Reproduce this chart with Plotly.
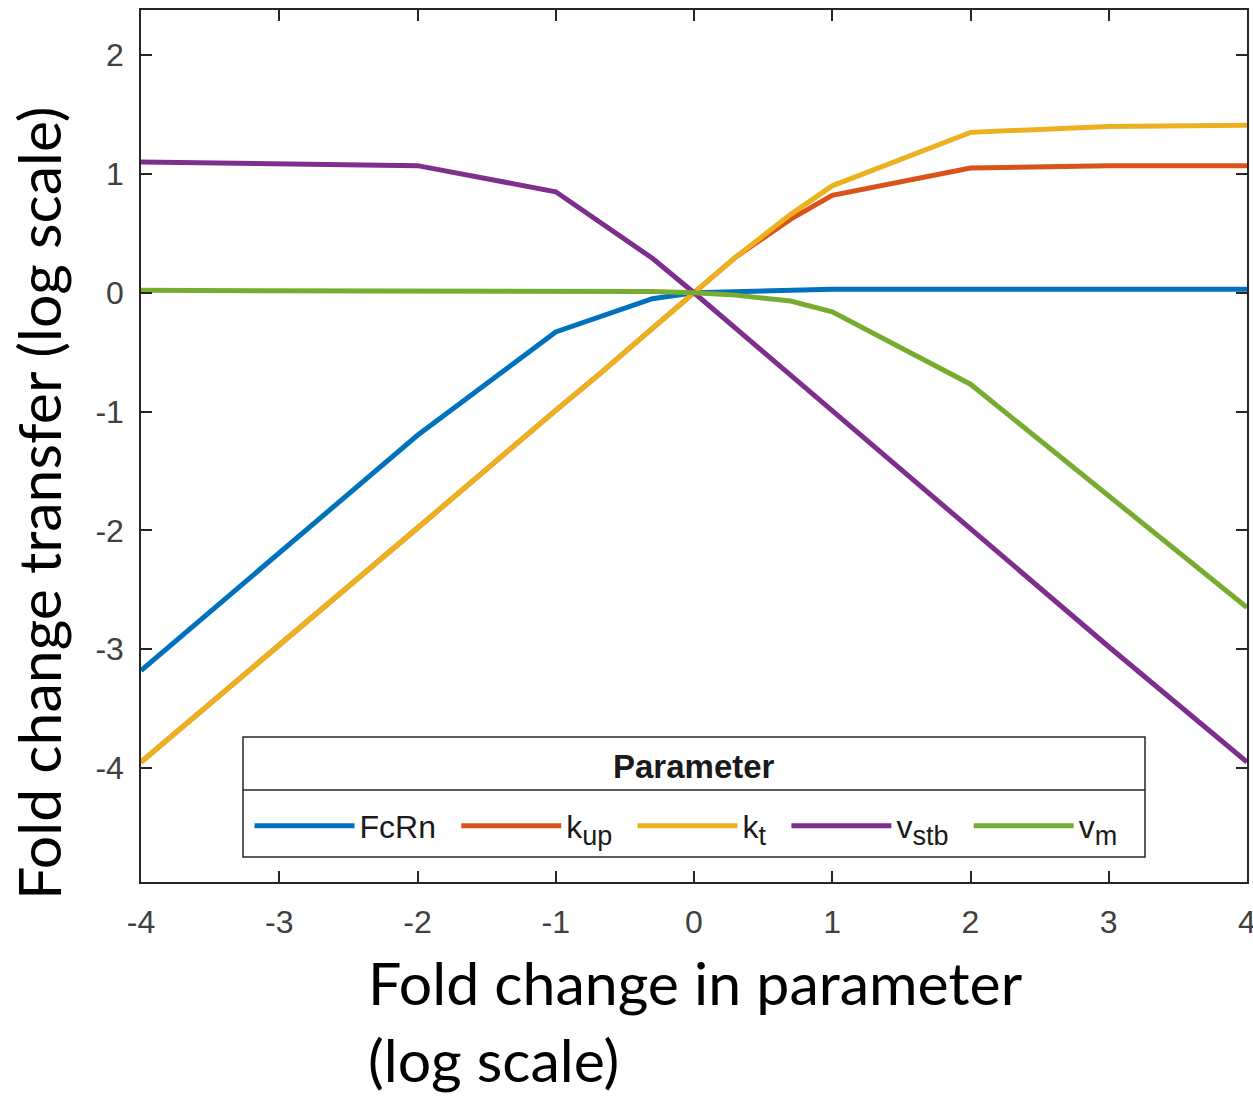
import plotly.graph_objects as go

# log10 fold change applied to each parameter
x_fold = [-4, -3, -2, -1, -0.699, -0.301, 0, 0.301, 0.699, 1, 2, 3, 4]

# log10 fold change in transfer for each perturbed parameter
fcrn = [-3.18, -2.19, -1.20, -0.33, -0.21, -0.05, 0, 0.01, 0.02, 0.03, 0.03, 0.03, 0.03]
k_up = [-3.95, -2.97, -1.98, -0.99, -0.70, -0.30, 0, 0.30, 0.62, 0.82, 1.05, 1.07, 1.07]
k_t = [-3.95, -2.97, -1.98, -0.99, -0.70, -0.30, 0, 0.30, 0.66, 0.90, 1.35, 1.40, 1.41]
v_stb = [1.10, 1.09, 1.07, 0.85, 0.61, 0.29, 0, -0.30, -0.70, -0.99, -1.99, -2.98, -3.95]
v_m = [0.02, 0.02, 0.02, 0.02, 0.01, 0.01, 0, -0.02, -0.07, -0.16, -0.77, -1.71, -2.65]

# legend labels: base symbol and subscript
label_base = ["FcRn", "k", "k", "v", "v"]
label_sub = ["", "up", "t", "stb", "m"]
series_values = [fcrn, k_up, k_t, v_stb, v_m]
colors = ["#0072BD", "#D95319", "#EDB120", "#7E2F8E", "#77AC30"]

x_ticks = [-4, -3, -2, -1, 0, 1, 2, 3, 4]
x_tick_text = ["-4", "-3", "-2", "-1", "0", "1", "2", "3", "4"]
y_ticks = [-4, -3, -2, -1, 0, 1, 2]
y_tick_text = ["-4", "-3", "-2", "-1", "0", "1", "2"]

sans = "Liberation Sans, Arial, sans-serif"
tick_font = dict(family=sans, size=32, color="#404040")
title_font = dict(family="Lato, Calibri, sans-serif", size=59, color="#000000")


def legend_label(base, sub):
    text = base
    if sub:
        text += "<sub><span style='font-size:27px'>" + sub + "</span></sub>"
    # a little trailing room between legend entries
    return text + "\u00a0\u2009"


fig = go.Figure()
for base, sub, vals, col in zip(label_base, label_sub, series_values, colors):
    fig.add_trace(go.Scatter(x=x_fold, y=vals, mode="lines", name=legend_label(base, sub),
                             line=dict(color=col, width=5)))

W, H = 1253, 1105
L, R, T, B = 141, 6, 10, 223
plot_w = W - L - R
plot_h = H - T - B


def px_x(p):
    return (p - L) / plot_w


def px_y(p):
    return (H - B - p) / plot_h


axis_common = dict(showgrid=False, zeroline=False, showline=True, linecolor="#262626",
                   linewidth=1.5, mirror="allticks", ticks="inside", ticklen=11,
                   tickcolor="#262626", tickwidth=1.5, tickfont=tick_font,
                   automargin=False, ticklabeloverflow="allow")

fig.update_xaxes(range=[-4, 4], tickvals=x_ticks, ticktext=x_tick_text,
                 ticklabelstandoff=11, **axis_common)
fig.update_yaxes(range=[-4.96, 2.38], tickvals=y_ticks, ticktext=y_tick_text,
                 ticklabelstandoff=9, **axis_common)

# legend frame with a header row
fig.add_shape(type="rect", xref="paper", yref="paper",
              x0=px_x(243), x1=px_x(1145), y0=px_y(857), y1=px_y(737),
              line=dict(color="#262626", width=1.5), fillcolor="white", layer="above")
fig.add_shape(type="line", xref="paper", yref="paper",
              x0=px_x(243), x1=px_x(1145), y0=px_y(790), y1=px_y(790),
              line=dict(color="#262626", width=1.5), layer="above")
fig.add_annotation(xref="paper", yref="paper", x=px_x(694), y=px_y(766),
                   xanchor="center", yanchor="middle",
                   text="<b>Parameter</b>", showarrow=False,
                   font=dict(family=sans, size=33, color="#1a1a1a"))

# axis titles
fig.add_annotation(xref="paper", yref="paper", x=px_x(366), y=px_y(945),
                   xanchor="left", yanchor="top", align="left", showarrow=False,
                   text="Fold change in parameter<br>(log scale)", font=title_font)
fig.add_annotation(xref="paper", yref="paper", x=px_x(38), y=px_y(503),
                   xanchor="center", yanchor="middle", textangle=-90, showarrow=False,
                   text="Fold change transfer (log scale)", font=title_font)

fig.update_layout(
    width=W, height=H,
    margin=dict(l=L, r=R, t=T, b=B),
    paper_bgcolor="white", plot_bgcolor="white",
    showlegend=True,
    legend=dict(orientation="h", x=0.5, xanchor="center", y=px_y(826), yanchor="middle",
                bgcolor="rgba(0,0,0,0)", borderwidth=0, itemwidth=100,
                font=dict(family=sans, size=32, color="#1a1a1a"),
                itemclick=False, itemdoubleclick=False),
)

fig.write_html("out.html")
